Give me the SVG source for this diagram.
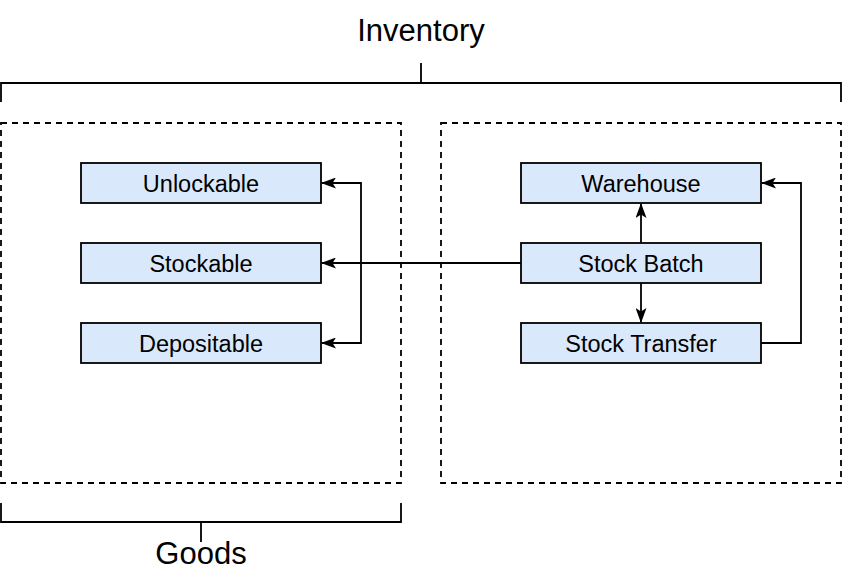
<svg xmlns="http://www.w3.org/2000/svg" width="842" height="588" viewBox="0 0 842 588">
<style>
.node rect{fill:#dae8fc;stroke:#000;stroke-width:1.8}
.node text{font-family:"Liberation Sans",Arial,sans-serif;font-size:23.5px;text-anchor:middle;fill:#000}
.title{font-family:"Liberation Sans",Arial,sans-serif;font-size:31px;text-anchor:middle;fill:#000}
.dash{fill:none;stroke:#000;stroke-width:1.8;stroke-dasharray:6 5}
.br{fill:none;stroke:#000;stroke-width:1.8}
.edge{fill:none;stroke:#000;stroke-width:1.8}
</style>
<defs>
<marker id="ah" viewBox="0 0 15 11" refX="14" refY="5.5" markerWidth="15" markerHeight="11" markerUnits="userSpaceOnUse" orient="auto">
<path d="M0,0 L15,5.5 L0,11 L3.5,5.5 Z" fill="#000"/>
</marker>
</defs>
<g id="inventory-bracket">
<path class="br" d="M1,102 V83 H841 V102 M421,83 V63"/>
<text class="title" x="421" y="41">Inventory</text>
</g>
<g id="goods-bracket">
<path class="br" d="M1,503 V522 H401 V503 M201,522 V542"/>
<text class="title" x="201" y="564">Goods</text>
</g>
<g id="goods-group"><rect class="dash" x="1" y="123" width="400" height="360"/></g>
<g id="inventory-group"><rect class="dash" x="441" y="123" width="400" height="360"/></g>
<g id="connectors">
<path class="edge" d="M521,263 H322" marker-end="url(#ah)"/>
<path class="edge" d="M361,263 V183 H322" marker-end="url(#ah)"/>
<path class="edge" d="M361,263 V343 H322" marker-end="url(#ah)"/>
<path class="edge" d="M641,243 V204" marker-end="url(#ah)"/>
<path class="edge" d="M641,283 V322" marker-end="url(#ah)"/>
<path class="edge" d="M761,343 H801 V183 H762" marker-end="url(#ah)"/>
</g>
<g id="unlockable" class="node"><rect x="81" y="163" width="240" height="40"/><text x="201" y="191.5">Unlockable</text></g>
<g id="stockable" class="node"><rect x="81" y="243" width="240" height="40"/><text x="201" y="271.5">Stockable</text></g>
<g id="depositable" class="node"><rect x="81" y="323" width="240" height="40"/><text x="201" y="351.5">Depositable</text></g>
<g id="warehouse" class="node"><rect x="521" y="163" width="240" height="40"/><text x="641" y="191.5">Warehouse</text></g>
<g id="stock-batch" class="node"><rect x="521" y="243" width="240" height="40"/><text x="641" y="271.5">Stock Batch</text></g>
<g id="stock-transfer" class="node"><rect x="521" y="323" width="240" height="40"/><text x="641" y="351.5">Stock Transfer</text></g>
</svg>
